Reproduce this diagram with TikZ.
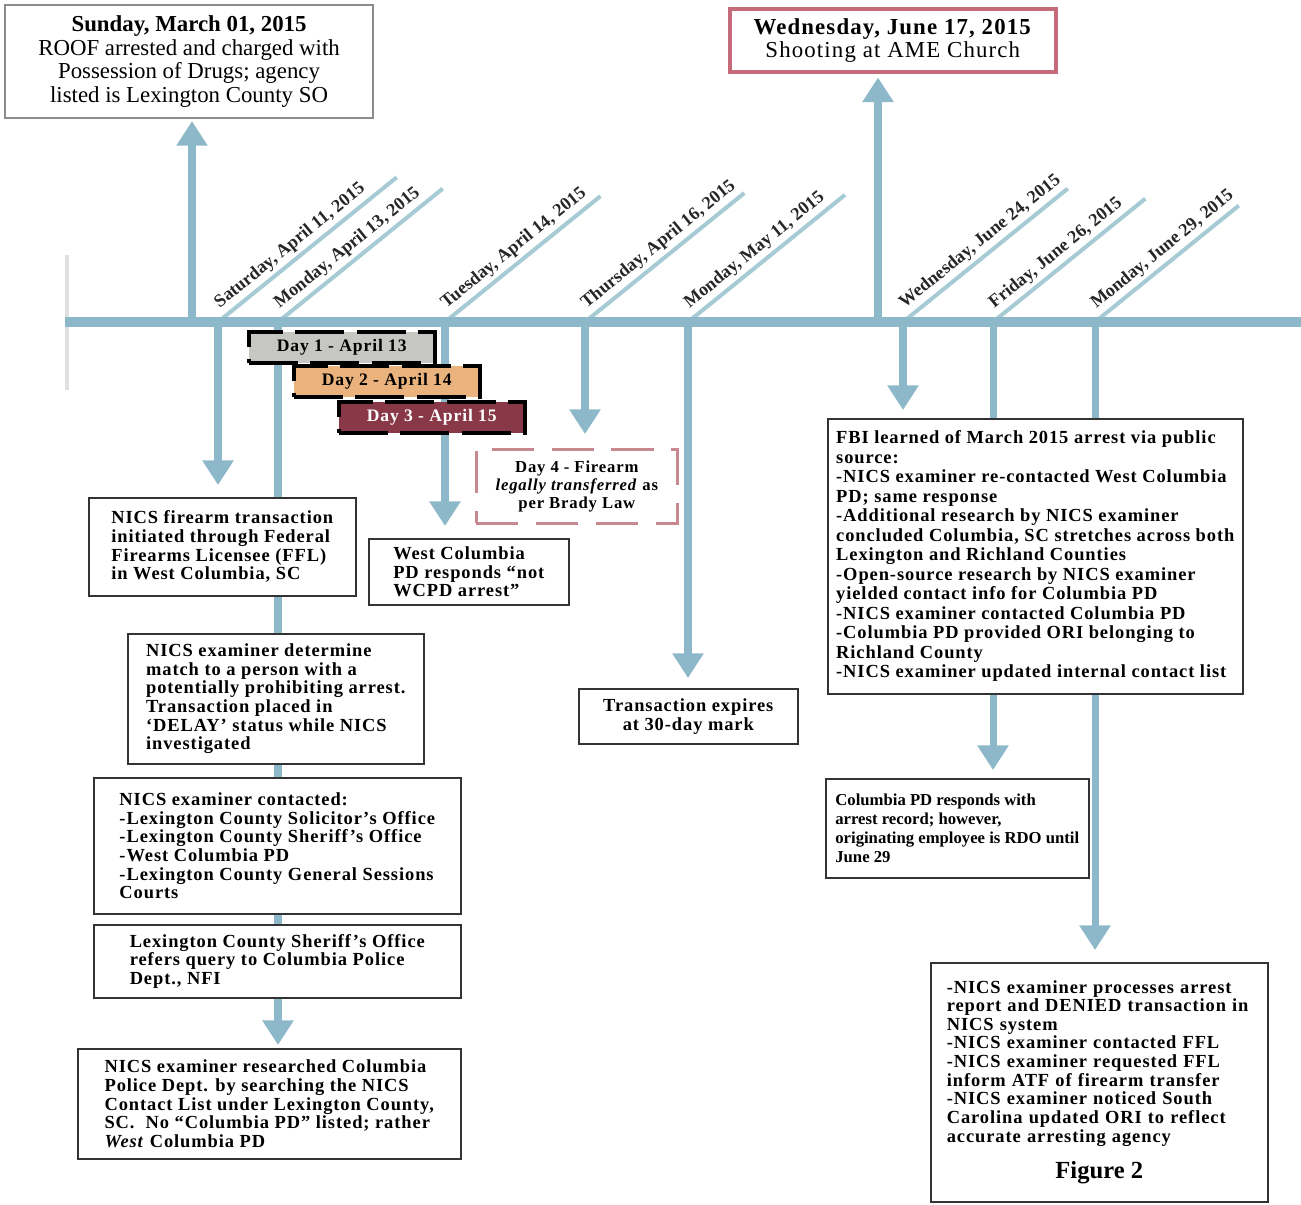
\documentclass[tikz,border=0pt]{standalone}
\usepackage{fontspec}
\setmainfont{Liberation Serif}
\newfontfamily\boxfont[LetterSpace=5]{Liberation Serif}
\usetikzlibrary{arrows.meta}
\newdimen\pxu
\pxu=0.02cm
\definecolor{barblue}{RGB}{141,184,201}
\definecolor{diagblue}{RGB}{166,203,212}
\definecolor{dayonegrey}{RGB}{198,198,194}
\definecolor{daytwoorange}{RGB}{234,178,124}
\definecolor{daythreered}{RGB}{136,56,70}
\definecolor{churchred}{RGB}{196,106,120}
\definecolor{bradyred}{RGB}{200,136,144}
\tikzset{
  infobox/.style={draw=black!80, line width=0.9pt, fill=white, align=left, inner sep=0pt,
    anchor=north west, font=\boxfont\bfseries\fontsize{10.5}{10.6}\selectfont},
  daybox/.style={draw=black, line width=2pt, dash pattern=on 28pt off 7pt, inner sep=0pt,
    anchor=north west, minimum width=186\pxu, minimum height=31\pxu,
    font=\boxfont\bfseries\fontsize{10}{12}\selectfont},
  datelabel/.style={sloped, anchor=south west, inner sep=2pt, pos=0.02, text=black!85,
    font=\rmfamily\bfseries\fontsize{10.3}{11}\selectfont},
  bar/.style={draw=barblue, line width=4pt},
  arrowbar/.style={bar, -{Triangle[width=17pt,length=14pt]}},
  diag/.style={draw=diagblue, line width=2.3pt}
}
\begin{document}
\begin{tikzpicture}[x=\pxu, y=-\pxu]
    \useasboundingbox (0,0) rectangle (1301,1204);
    \coordinate (tlstart) at (65,322);
    \coordinate (tlend) at (1301,322);
    \coordinate (sun) at (192,322);
    \coordinate (sat) at (218,322);
    \coordinate (mona) at (278,322);
    \coordinate (tue) at (445,322);
    \coordinate (thu) at (585,322);
    \coordinate (may) at (688,322);
    \coordinate (shoot) at (878,322);
    \coordinate (juna) at (903,322);
    \coordinate (junb) at (993,322);
    \coordinate (junc) at (1095,322);
    \draw [black!12, line width=2pt] (67,255) -- (67,390);
    \foreach \nm/\len/\txt in {sat/230/{Saturday, April 11, 2015}, mona/212/{Monday, April 13, 2015},
        tue/200/{Tuesday, April 14, 2015}, thu/205/{Thursday, April 16, 2015},
        may/202/{Monday, May 11, 2015}, juna/212/{Wednesday, June 24, 2015},
        junb/196/{Friday, June 26, 2015}, junc/185/{Monday, June 29, 2015}}
        \draw [diag] (\nm) -- ++(-39:\len) node [datelabel] (lbl\nm) {\txt};
    \draw [bar, line width=5.7pt] (tlstart) -- (tlend);

    \node [draw=black!45, line width=1.2pt, fill=white, align=center, anchor=north west, inner sep=0pt,
        minimum width=368\pxu, minimum height=113\pxu, font=\fontsize{13}{13.6}\selectfont] (sunbox) at (4,4)
        {\textbf{Sunday, March 01, 2015}\\ROOF arrested and charged with\\Possession of Drugs; agency\\listed is Lexington County SO};
    \node [draw=churchred, line width=2pt, fill=white, align=center, anchor=north west, inner sep=0pt,
        minimum width=326\pxu, minimum height=63\pxu, font=\boxfont\fontsize{13}{13}\selectfont] (churchbox) at (728,7)
        {\textbf{Wednesday, June 17, 2015}\\Shooting at AME Church};
    \node [infobox, minimum width=267\pxu, minimum height=98\pxu] (firstbox) at (88,497)
        {NICS firearm transaction\\initiated through Federal\\Firearms Licensee (FFL)\\in West Columbia, SC};
    \node [infobox, minimum width=200\pxu, minimum height=66\pxu] (westbox) at (368,538)
        {West Columbia\\PD responds “not\\WCPD arrest”};
    \node [infobox, minimum width=296\pxu, minimum height=130\pxu] (delaybox) at (127,633)
        {NICS examiner determine\\match to a person with a\\potentially prohibiting arrest.\\Transaction placed in\\‘DELAY’ status while NICS\\investigated};
    \node [infobox, minimum width=367\pxu, minimum height=136\pxu] (contactbox) at (93,777)
        {NICS examiner contacted:\\-Lexington County Solicitor’s Office\\-Lexington County Sheriff’s Office\\-West Columbia PD\\-Lexington County General Sessions\\Courts};
    \node [infobox, minimum width=367\pxu, minimum height=73\pxu] (sheriffbox) at (93,924)
        {Lexington County Sheriff’s Office\\refers query to Columbia Police\\Dept., NFI};
    \node [infobox, minimum width=383\pxu, minimum height=110\pxu] (researchbox) at (77,1048)
        {NICS examiner researched Columbia\\Police Dept. by searching the NICS\\Contact List under Lexington County,\\SC.\ \ No “Columbia PD” listed; rather\\\textit{West} Columbia PD};
    \node [infobox, align=center, minimum width=219\pxu, minimum height=55\pxu] (expirebox) at (578,688)
        {Transaction expires\\at 30-day mark};
    \node [infobox, minimum width=415\pxu, minimum height=275\pxu, font=\boxfont\bfseries\fontsize{10.5}{11.1}\selectfont] (fbibox) at (827,418)
        {FBI learned of March 2015 arrest via public\\source:\\-NICS examiner re-contacted West Columbia\\PD; same response\\-Additional research by NICS examiner\\concluded Columbia, SC stretches across both\\Lexington and Richland Counties\\-Open-source research by NICS examiner\\yielded contact info for Columbia PD\\-NICS examiner contacted Columbia PD\\-Columbia PD provided ORI belonging to\\Richland County\\-NICS examiner updated internal contact list};
    \node [infobox, minimum width=263\pxu, minimum height=99\pxu, font=\rmfamily\bfseries\fontsize{9.5}{10.8}\selectfont] (responsebox) at (825,778)
        {Columbia PD responds with\\arrest record; however,\\originating employee is RDO until\\June 29};
    \node [infobox, text width=305\pxu, inner xsep=16\pxu, minimum height=239\pxu] (deniedbox) at (930,962)
        {-NICS examiner processes arrest\\report and DENIED transaction in\\NICS system\\-NICS examiner contacted FFL\\-NICS examiner requested FFL\\inform ATF of firearm transfer\\-NICS examiner noticed South\\Carolina updated ORI to reflect\\accurate arresting agency\\[8pt]\hspace*{\fill}{\rmfamily\bfseries\fontsize{14}{14}\selectfont Figure 2}\hspace*{\fill}\mbox{}};
    \node [draw=bradyred, line width=1.5pt, dash pattern=on 24pt off 10pt, fill=white, align=center,
        anchor=north west, inner sep=0pt, minimum width=201\pxu, minimum height=74\pxu,
        font=\boxfont\bfseries\fontsize{9.5}{10.2}\selectfont] (dayfour) at (475,448)
        {Day 4 - Firearm\\\textit{legally transferred} as\\per Brady Law};

    \draw [arrowbar, shorten >=2\pxu] (sun) -- (sun |- sunbox.south);
    \draw [arrowbar, shorten >=4\pxu] (shoot) -- (shoot |- churchbox.south);
    \draw [arrowbar, shorten >=12\pxu] (sat) -- (sat |- firstbox.north);
    \draw [bar] (mona) -- (mona |- firstbox.north);
    \draw [bar] (mona |- firstbox.south) -- (mona |- delaybox.north);
    \draw [bar] (mona |- delaybox.south) -- (mona |- contactbox.north);
    \draw [bar] (mona |- contactbox.south) -- (mona |- sheriffbox.north);
    \draw [arrowbar, shorten >=3\pxu] (mona |- sheriffbox.south) -- (mona |- researchbox.north);
    \draw [arrowbar, shorten >=12\pxu] (tue) -- (tue |- westbox.north);
    \draw [arrowbar, shorten >=14\pxu] (thu) -- (thu |- dayfour.north);
    \draw [arrowbar, shorten >=10\pxu] (may) -- (may |- expirebox.north);
    \draw [arrowbar, shorten >=8\pxu] (juna) -- (juna |- fbibox.north);
    \draw [bar] (junb) -- (junb |- fbibox.north);
    \draw [arrowbar, shorten >=8\pxu] (junb |- fbibox.south) -- (junb |- responsebox.north);
    \draw [bar] (junc) -- (junc |- fbibox.north);
    \draw [arrowbar, shorten >=12\pxu] (junc |- fbibox.south) -- (junc |- deniedbox.north);

    \node [daybox, fill=dayonegrey] (dayone) at (247,330) {Day 1 - April 13};
    \node [daybox, fill=daytwoorange] (daytwo) at (292,364) {Day 2 - April 14};
    \node [daybox, fill=daythreered, text=white] (daythree) at (337,400) {Day 3 - April 15};
\end{tikzpicture}
\end{document}
